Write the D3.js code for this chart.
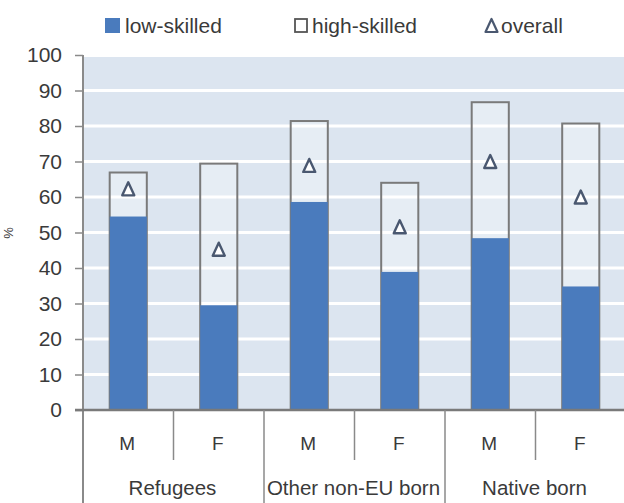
<!DOCTYPE html>
<html>
<head>
<meta charset="utf-8">
<script src="https://cdn.jsdelivr.net/npm/d3@7"></script>
<style>
  html, body { margin: 0; padding: 0; background: #ffffff; }
  svg { display: block; }
  text { font-family: "Liberation Sans", Arial, sans-serif; fill: #3a3a3a; }
</style>
</head>
<body>
<script>
// ---- data ----
const groups = ["Refugees", "Other non-EU born", "Native born"];
const sexes = ["M", "F"];
const lowSkilled  = [54.5, 29.5, 58.6, 38.9, 48.4, 34.8];
const highSkilled = [66.9, 69.4, 81.4, 64.0, 86.7, 80.7];
const overall     = [62.3, 45.3, 68.9, 51.6, 70.0, 60.0];
const yTicks = [0, 10, 20, 30, 40, 50, 60, 70, 80, 90, 100];
const legendLabels = ["low-skilled", "high-skilled", "overall"];

(function () {
const slots = [];
groups.forEach((g, gi) => sexes.forEach((s, si) => slots.push({ id: g + "|" + s, group: g, sex: s, gi, si })));
slots.forEach((d, i) => { d.low = lowSkilled[i]; d.high = highSkilled[i]; d.overall = overall[i]; });

// ---- layout ----
const W = 624, H = 503;
const plotLeft = 83, plotRight = 626, plotTop = 55, axisY = 410;
const blue = "#4a7bbd";
const bg = "#dce5f0";

const svg = d3.select("body").append("svg").attr("width", W).attr("height", H);

const y = d3.scaleLinear().domain([0, 100]).range([axisY, plotTop]);
const x = d3.scaleBand().domain(slots.map(d => d.id)).range([plotLeft, plotRight]).padding(0);
const gx = d3.scaleBand().domain(groups).range([plotLeft, plotRight]).padding(0);
const barW = x.bandwidth() * 0.41;

// custom tall triangle symbol (width w, height h) centred on its box
const tallTri = (w, h) => ({
  draw(ctx) {
    ctx.moveTo(0, -h / 2);
    ctx.lineTo(w / 2, h / 2);
    ctx.lineTo(-w / 2, h / 2);
    ctx.closePath();
  }
});

// plot background
svg.append("rect").attr("x", plotLeft).attr("y", y(100) + 2).attr("width", plotRight - plotLeft).attr("height", y(0) - y(100) - 2).attr("fill", bg);

// gridlines
svg.append("g").selectAll("line").data(yTicks.filter(t => t > 0 && t < 100)).join("line")
  .attr("x1", plotLeft).attr("x2", plotRight)
  .attr("y1", d => y(d)).attr("y2", d => y(d))
  .attr("stroke", "#ffffff").attr("stroke-width", 3);

// high-skilled (hollow) bars
svg.append("g").selectAll("rect").data(slots).join("rect")
  .attr("x", d => x(d.id) + (x.bandwidth() - barW) / 2)
  .attr("y", d => y(d.high))
  .attr("width", barW)
  .attr("height", d => y(0) - y(d.high))
  .attr("fill", "rgba(255,255,255,0.3)")
  .attr("stroke", "#7a7a7a").attr("stroke-width", 2);

// low-skilled bars
svg.append("g").selectAll("rect").data(slots).join("rect")
  .attr("x", d => x(d.id) + (x.bandwidth() - barW) / 2)
  .attr("y", d => y(d.low))
  .attr("width", barW)
  .attr("height", d => y(0) - y(d.low))
  .attr("fill", blue);

// overall triangles
const tri = d3.symbol().type(tallTri(12, 13));
svg.append("g").selectAll("path").data(slots).join("path")
  .attr("d", tri)
  .attr("transform", d => `translate(${x(d.id) + x.bandwidth() / 2},${y(d.overall)})`)
  .attr("fill", "#ffffff").attr("stroke", "#4a5870").attr("stroke-width", 2.4)
  .attr("stroke-linejoin", "round");

// y axis
const yAxis = d3.axisLeft(y).tickValues(yTicks).tickSize(8).tickPadding(13);
const ya = svg.append("g").attr("transform", `translate(${plotLeft},0)`).call(yAxis);
ya.select(".domain").remove();
ya.selectAll(".tick line").attr("stroke", "#8a8a8a").attr("stroke-width", 1.5);
ya.selectAll(".tick text").style("font-size", "21px").style("font-family", "Liberation Sans, Arial, sans-serif").attr("fill", "#3a3a3a");
svg.append("line").attr("x1", plotLeft).attr("x2", plotLeft).attr("y1", y(100)).attr("y2", H)
  .attr("stroke", "#8a8a8a").attr("stroke-width", 2);

// x axis line
svg.append("line").attr("x1", plotLeft - 8).attr("x2", W).attr("y1", axisY).attr("y2", axisY)
  .attr("stroke", "#7a7a7a").attr("stroke-width", 2.5);

// minor separators (between M and F)
svg.append("g").selectAll("line").data(groups).join("line")
  .attr("x1", g => gx(g) + gx.bandwidth() / 2).attr("x2", g => gx(g) + gx.bandwidth() / 2)
  .attr("y1", axisY).attr("y2", 460)
  .attr("stroke", "#8a8a8a").attr("stroke-width", 1.5);

// major separators (between groups)
svg.append("g").selectAll("line").data(groups.slice(1)).join("line")
  .attr("x1", g => gx(g)).attr("x2", g => gx(g))
  .attr("y1", axisY).attr("y2", H)
  .attr("stroke", "#8a8a8a").attr("stroke-width", 1.5);

// sex labels
svg.append("g").selectAll("text").data(slots).join("text")
  .attr("x", d => x(d.id) + x.bandwidth() / 2 - 1)
  .attr("y", 443).attr("dy", "0.35em")
  .attr("text-anchor", "middle")
  .style("font-size", "19px")
  .text(d => d.sex);

// group labels
svg.append("g").selectAll("text").data(groups).join("text")
  .attr("x", g => gx(g) + gx.bandwidth() / 2 - 1)
  .attr("y", 488).attr("dy", "0.35em")
  .attr("text-anchor", "middle")
  .style("font-size", "20.5px")
  .text(g => g);

// y-axis title fragment (cut off at left edge)
svg.append("text")
  .attr("transform", "translate(13,233) rotate(-90)")
  .attr("text-anchor", "middle")
  .style("font-size", "13px").attr("fill", "#777")
  .text("%");

// legend
const lg = svg.append("g");
const lb = 33;
lg.append("rect").attr("x", 105).attr("y", lb - 15).attr("width", 15).attr("height", 15).attr("fill", blue);
lg.append("text").attr("x", 125).attr("y", lb).style("font-size", "21px").text(legendLabels[0]);
lg.append("rect").attr("x", 295).attr("y", lb - 14).attr("width", 12).attr("height", 13).attr("fill", "#fff").attr("stroke", "#555").attr("stroke-width", 1.8);
lg.append("text").attr("x", 312).attr("y", lb).style("font-size", "21px").text(legendLabels[1]);
lg.append("path").attr("d", d3.symbol().type(tallTri(12, 13))).attr("transform", `translate(491.5,${lb - 7.5})`)
  .attr("fill", "#fff").attr("stroke", "#4a5870").attr("stroke-width", 2.2).attr("stroke-linejoin", "round");
lg.append("text").attr("x", 501).attr("y", lb).style("font-size", "21px").text(legendLabels[2]);
})();
</script>
</body>
</html>
